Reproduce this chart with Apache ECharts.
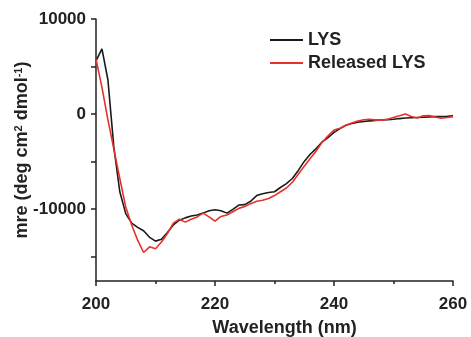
<!DOCTYPE html>
<html>
<head>
<meta charset="utf-8">
<script src="https://cdn.jsdelivr.net/npm/echarts@6/dist/echarts.min.js"></script>
<style>
html, body { margin: 0; padding: 0; background: #fff; }
#chartView { width: 471px; height: 337px; }
</style>
</head>
<body>
<div id="chartView"></div>
<script>
// wavelength (nm)
var wavelength = [200, 201, 202, 203, 204, 205, 206, 207, 208, 209,
	210, 211, 212, 213, 214, 215, 216, 217, 218, 219,
	220, 221, 222, 223, 224, 225, 226, 227, 228, 229,
	230, 231, 232, 233, 234, 235, 236, 237, 238, 239,
	240, 241, 242, 243, 244, 245, 246, 247, 248, 249,
	250, 251, 252, 253, 254, 255, 256, 257, 258, 259, 260];
var lysData = [5600, 6850, 3600, -3500, -8200, -10500, -11500, -11950, -12300, -13000,
	-13400, -13200, -12500, -11700, -11200, -10950, -10750, -10650, -10450, -10200,
	-10100, -10200, -10450, -10050, -9600, -9550, -9200, -8600, -8400, -8280,
	-8200, -7750, -7350, -6800, -5950, -5000, -4250, -3650, -2950, -2500,
	-1950, -1550, -1200, -1000, -880, -800, -730, -680, -640, -600,
	-560, -490, -430, -400, -370, -350, -310, -280, -280, -250, -210];
var releasedData = [5800, 2800, -600, -3700, -6800, -9800, -11700, -13300, -14600, -14000,
	-14200, -13500, -12600, -11500, -11100, -11400, -11100, -10850, -10450, -10850,
	-11300, -10800, -10650, -10300, -9950, -9750, -9450, -9200, -9100, -8900,
	-8600, -8200, -7800, -7200, -6350, -5500, -4700, -3900, -3000, -2300,
	-1700, -1500, -1200, -950, -750, -620, -560, -650, -650, -560,
	-380, -200, 0, -280, -430, -200, -180, -320, -450, -380, -280];
var yTicks = [-15000, -10000, -5000, 0, 5000, 10000];
var yLabels = [-10000, 0, 10000];
var seriesNames = ['LYS', 'Released LYS'];

function pairs(xs, ys) {
	var out = [];
	for (var i = 0; i < xs.length; i++) out.push([xs[i], ys[i]]);
	return out;
}

var font = 'Liberation Sans, Arial, sans-serif';
var chartView = echarts.init(document.getElementById('chartView'));
var ops = {
	animation: false,
	color: ['#1a1a1a', '#e8302a'],
	textStyle: { fontFamily: font },
	grid: { left: 96, right: 18, top: 19, bottom: 56, containLabel: false, outerBoundsMode: 'none' },
	legend: {
		data: seriesNames,
		orient: 'vertical',
		left: 269,
		top: 31,
		padding: 0,
		itemWidth: 33,
		itemHeight: 18,
		itemGap: 5,
		itemStyle: { opacity: 0 },
		textStyle: { fontSize: 18, fontWeight: 'bold', color: '#222', fontFamily: font }
	},
	xAxis: {
		type: 'value',
		min: 200,
		max: 260,
		interval: 20,
		name: 'Wavelength (nm)',
		nameLocation: 'middle',
		nameGap: 38,
		nameMoveOverlap: false,
		nameTextStyle: { fontSize: 18, fontWeight: 'bold', color: '#222', padding: [0, 0, 0, 20] },
		axisLine: { onZero: false, lineStyle: { color: '#222', width: 1.5 } },
		axisTick: { length: 5, lineStyle: { color: '#222', width: 1.5 } },
		minorTick: { show: true, splitNumber: 2, length: 3, lineStyle: { color: '#222', width: 1.5 } },
		axisLabel: { fontSize: 17, fontWeight: 'bold', color: '#222', margin: 15 },
		splitLine: { show: false }
	},
	yAxis: {
		type: 'value',
		min: -17600,
		max: 10000,
		name: 'mre (deg cm{sup|2} dmol{sup|-1})',
		nameLocation: 'middle',
		nameGap: 65,
		nameMoveOverlap: false,
		nameTextStyle: {
			fontSize: 18, fontWeight: 'bold', color: '#222',
			rich: { sup: { fontSize: 11, fontWeight: 'bold', color: '#222', verticalAlign: 'top' } }
		},
		axisLine: { show: true, onZero: false, lineStyle: { color: '#222', width: 1.5 } },
		axisTick: { customValues: yTicks, length: 5, lineStyle: { color: '#222', width: 1.5 } },
		axisLabel: {
			customValues: yLabels, fontSize: 17, fontWeight: 'bold', color: '#222', margin: 10,
			formatter: function (v) { return String(v); }
		},
		splitLine: { show: false }
	},
	series: [{
		name: seriesNames[0],
		type: 'line',
		symbol: 'none',
		lineStyle: { width: 1.6 },
		data: pairs(wavelength, lysData)
	}, {
		name: seriesNames[1],
		type: 'line',
		symbol: 'none',
		lineStyle: { width: 1.6 },
		data: pairs(wavelength, releasedData)
	}]
};
chartView.setOption(ops);
</script>
</body>
</html>
